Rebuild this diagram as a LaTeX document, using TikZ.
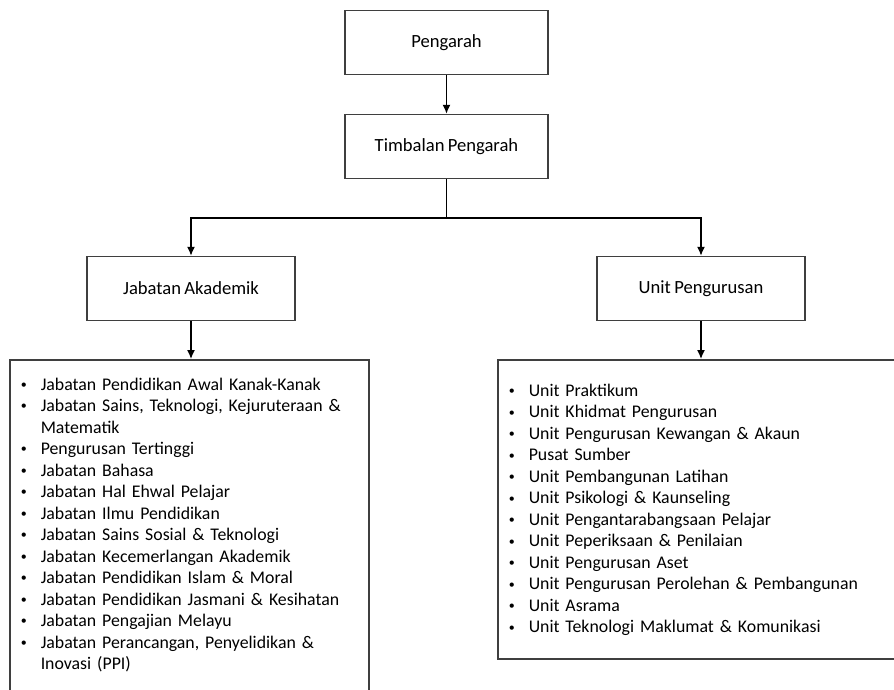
\documentclass[tikz,border=0pt]{standalone}
\usepackage{fontspec}
\setmainfont{Carlito}[WordSpace=0.8]
\usepackage{enumitem}
\usetikzlibrary{arrows.meta}
\definecolor{boxline}{HTML}{3F3F3F}

\newcommand{\dotmark}{\raisebox{1.6pt}{\fontsize{12}{12}\selectfont\textbullet}}
\newcommand{\padbottom}[1]{\par\vskip#1\nointerlineskip\hbox{}}

\tikzset{
  orgbox/.style={draw=boxline, line width=1.5pt, inner sep=0,
    minimum width=203, minimum height=64, font=\fontsize{18.6}{22}\selectfont},
  listbox/.style={draw=boxline, line width=1.5pt, inner sep=0, anchor=north west,
    align=left, font=\fontsize{17.8}{21.5}\selectfont},
}

\begin{document}
\begin{tikzpicture}[x=1pt, y=-1pt]
  \useasboundingbox (0,0) rectangle (894,689);

  \node[orgbox] (pengarah) at (446.5, 42.5) {Pengarah};

  \node[orgbox] (timbalan) at (446.5, 146.5) {Timbalan Pengarah};

  \node[orgbox, minimum width=208] (akademik) at (191, 288.5) {Jabatan Akademik};

  \node[orgbox, minimum width=208] (pengurusan) at (701, 288.5) {Unit Pengurusan};

  \node[listbox, text width=359, minimum height=333] (akademiklist) at (9, 359) {%
    \begin{itemize}[nosep, leftmargin=31pt, labelsep=14pt, label=\dotmark]
      \item Jabatan Pendidikan Awal Kanak-Kanak
      \item Jabatan Sains, Teknologi, Kejuruteraan \&\\ Matematik
      \item Pengurusan Tertinggi
      \item Jabatan Bahasa
      \item Jabatan Hal Ehwal Pelajar
      \item Jabatan Ilmu Pendidikan
      \item Jabatan Sains Sosial \& Teknologi
      \item Jabatan Kecemerlangan Akademik
      \item Jabatan Pendidikan Islam \& Moral
      \item Jabatan Pendidikan Jasmani \& Kesihatan
      \item Jabatan Pengajian Melayu
      \item Jabatan Perancangan, Penyelidikan \&\\ Inovasi (PPI)
    \end{itemize}\padbottom{12pt}};

  \node[listbox, text width=402, minimum height=299] (pengurusanlist) at (497, 359) {%
    \begin{itemize}[nosep, leftmargin=31pt, labelsep=14pt, label=\dotmark]
      \item Unit Praktikum
      \item Unit Khidmat Pengurusan
      \item Unit Pengurusan Kewangan \& Akaun
      \item Pusat Sumber
      \item Unit Pembangunan Latihan
      \item Unit Psikologi \& Kaunseling
      \item Unit Pengantarabangsaan Pelajar
      \item Unit Peperiksaan \& Penilaian
      \item Unit Pengurusan Aset
      \item Unit Pengurusan Perolehan \& Pembangunan
      \item Unit Asrama
      \item Unit Teknologi Maklumat \& Komunikasi
    \end{itemize}\padbottom{8pt}};

  \coordinate (split) at (446.5, 218);

  \draw[->, >={Latex[length=9pt, width=8pt]}, line width=1.4pt]
    (pengarah) -- (timbalan);

  \draw[line width=1.4pt]
    (timbalan) -- (split);

  \draw[->, >={Latex[length=9pt, width=8pt]}, line width=1.4pt]
    (split) -| (akademik);
  \draw[->, >={Latex[length=9pt, width=8pt]}, line width=1.4pt]
    (split) -| (pengurusan);

  \draw[->, >={Latex[length=9pt, width=8pt]}, line width=1.4pt]
    (akademik) -- (akademik |- akademiklist.north);
  \draw[->, >={Latex[length=9pt, width=8pt]}, line width=1.4pt]
    (pengurusan) -- (pengurusan |- pengurusanlist.north);
\end{tikzpicture}
\end{document}
